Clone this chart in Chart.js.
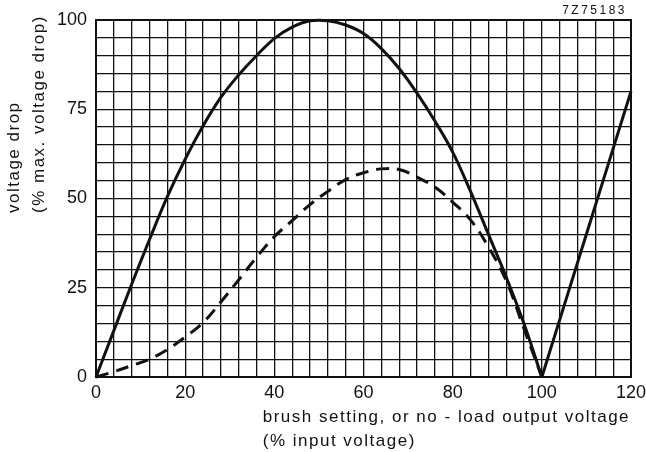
<!DOCTYPE html>
<html>
<head>
<meta charset="utf-8">
<script src="https://cdn.jsdelivr.net/npm/chart.js@4/dist/chart.umd.min.js"></script>
<style>
  html, body { margin: 0; padding: 0; background: #fff; }
  #wrap { width: 646px; height: 452px; }
</style>
</head>
<body>
<div id="wrap"><canvas id="chart" width="646" height="452"></canvas></div>
<script>
// solid curve: voltage drop vs brush setting (0..100)
const solidX = [0, 4, 8, 12, 16, 20, 24, 28, 32, 36, 40, 44, 48, 52, 56, 60, 64, 68, 72, 76, 80, 84, 88, 92, 96, 100];
const solidY = [0, 13, 26, 38.5, 50.5, 61, 70.3, 78.3, 84.6, 90, 94.8, 98, 99.8, 99.8, 98.6, 96.2, 92, 86.4, 79.5, 71.7, 63, 52, 40, 28, 14.9, 0];
// solid straight branch above 100 %
const vX = [100, 120];
const vY = [0, 80];
// dashed curve
const dashX = [0, 4, 8, 12, 16, 20, 24, 28, 32, 36, 40, 44, 48, 52, 56, 60, 64, 68, 72, 76, 80, 84, 88, 92, 96, 100];
const dashY = [0, 1.5, 3.2, 5, 7.7, 11.2, 15.2, 21, 27.2, 33.5, 39.3, 43.8, 48.3, 52, 55.3, 57.2, 58.3, 58.1, 56, 53.2, 49, 44, 36.5, 27, 13.5, 0];

const xTickLabels = [0, 20, 40, 60, 80, 100, 120];
const yTickLabels = [0, 25, 50, 75, 100];
const xTitle = ["brush setting, or no - load output voltage", "(% input voltage)"];
const yTitle = ["voltage drop", "(% max. voltage drop)"];
const figCode = "7Z75183";

const ink = '#111';
const font = '"Liberation Sans", Arial, sans-serif';

const pts = (xs, ys) => xs.map((x, i) => ({ x, y: ys[i] }));

// titles and frame drawn by hand so they sit where the original has them
const labelsPlugin = {
  id: 'labels',
  afterDraw(chart) {
    const ctx = chart.ctx;
    const a = chart.chartArea;
    ctx.save();
    ctx.strokeStyle = ink;
    ctx.lineWidth = 2;
    ctx.strokeRect(a.left, a.top, a.right - a.left, a.bottom - a.top);

    ctx.fillStyle = ink;
    ctx.font = '17px ' + font;
    ctx.letterSpacing = '1.5px';
    ctx.textAlign = 'left';
    ctx.textBaseline = 'middle';
    const tx = chart.scales.x.getPixelForValue(37.4);
    ctx.fillText(xTitle[0], tx, 417);
    ctx.fillText(xTitle[1], tx, 441);

    ctx.save();
    ctx.translate(14, 213);
    ctx.rotate(-Math.PI / 2);
    ctx.fillText(yTitle[0], 0, 0);
    ctx.fillText(yTitle[1], 0, 25);
    ctx.restore();

    ctx.font = '12px ' + font;
    ctx.letterSpacing = '2.5px';
    ctx.textAlign = 'right';
    ctx.fillText(figCode, 627, 11);
    ctx.restore();
  }
};

new Chart(document.getElementById('chart').getContext('2d'), {
  type: 'scatter',
  data: {
    datasets: [
      {
        data: pts(solidX, solidY),
        showLine: true,
        borderColor: ink,
        borderWidth: 3,
        pointRadius: 0,
        tension: 0.4,
        clip: false
      },
      {
        data: pts(vX, vY),
        showLine: true,
        borderColor: ink,
        borderWidth: 3,
        pointRadius: 0,
        clip: false
      },
      {
        data: pts(dashX, dashY),
        showLine: true,
        borderColor: ink,
        borderWidth: 3,
        borderDash: [13, 8],
        pointRadius: 0,
        tension: 0.4,
        clip: false
      }
    ]
  },
  options: {
    responsive: false,
    animation: false,
    layout: { padding: { left: 0, right: 15, top: 20, bottom: 0 } },
    plugins: { legend: { display: false }, tooltip: { enabled: false } },
    scales: {
      x: {
        type: 'linear',
        min: 0,
        max: 120,
        afterFit: s => { s.height = 75; s.paddingRight = 0; s.paddingLeft = 0; },
        grid: { color: ink, lineWidth: 1.3, drawTicks: false },
        border: { display: false },
        ticks: {
          stepSize: 4,
          autoSkip: false,
          maxRotation: 0,
          padding: 5,
          color: ink,
          font: { family: font, size: 18 },
          callback: v => xTickLabels.includes(v) ? String(v) : ''
        }
      },
      y: {
        type: 'linear',
        min: 0,
        max: 100,
        afterFit: s => { s.width = 96; s.paddingTop = 0; s.paddingBottom = 0; },
        grid: { color: ink, lineWidth: 1.3, drawTicks: false },
        border: { display: false },
        ticks: {
          stepSize: 5,
          autoSkip: false,
          padding: 9,
          color: ink,
          font: { family: font, size: 18 },
          callback: v => yTickLabels.includes(v) ? String(v) : ''
        }
      }
    }
  },
  plugins: [labelsPlugin]
});
</script>
</body>
</html>
